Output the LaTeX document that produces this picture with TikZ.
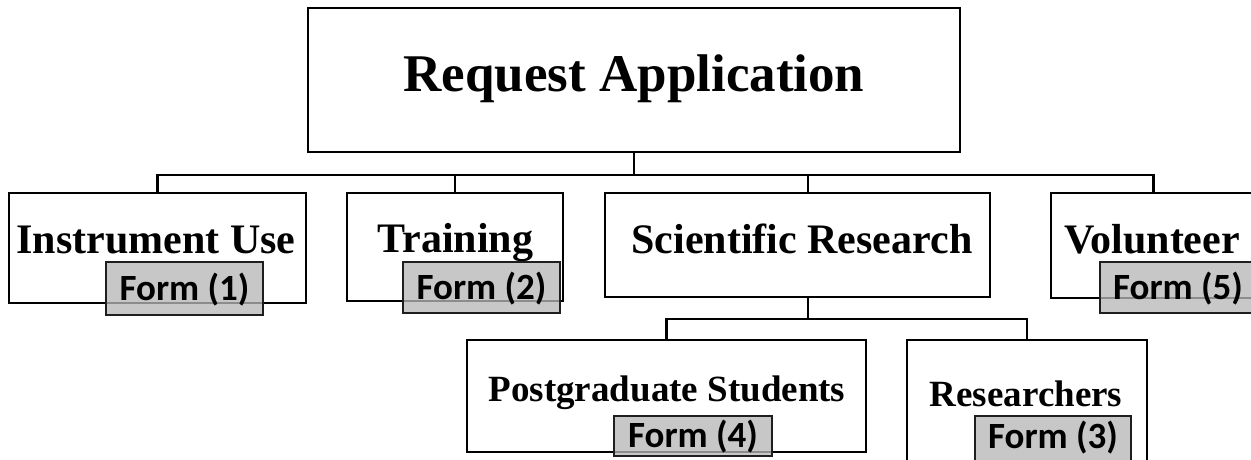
\documentclass[tikz,border=0pt]{standalone}
\usepackage{fontspec}
\newfontfamily\serifbold{Liberation Serif}
\newfontfamily\formfont{Carlito}
\begin{document}
\begin{tikzpicture}[x=1pt,y=-1pt,
  box/.style={draw=black, line width=2.6pt, fill=white, inner sep=0pt, rectangle},
  formbox/.style={draw={rgb,255:red,30;green,30;blue,30}, line width=2.4pt,
     fill={rgb,255:red,183;green,183;blue,183}, fill opacity=0.77, text opacity=1,
     inner sep=0pt, rectangle, text height=23.5pt, text depth=0pt,
     font=\formfont\bfseries\fontsize{37}{40}\selectfont},
  lbl/.style={anchor=base, inner sep=0pt, font=\serifbold\bfseries},
  conn/.style={draw=black, line width=2.6pt}]
\useasboundingbox (0,0) rectangle (1251,459);
\clip (0,0) rectangle (1251,459);
% boxes
\node[box, minimum width=652pt, minimum height=144pt] (top) at (634,80) {};
\node[box, minimum width=297pt, minimum height=110pt] (inst) at (157.5,248) {};
\node[box, minimum width=216pt, minimum height=108pt] (train) at (455,247) {};
\node[box, minimum width=385pt, minimum height=104pt] (sci) at (797.5,245) {};
\node[box, minimum width=205pt, minimum height=105pt] (vol) at (1153.5,245.5) {};
\node[box, minimum width=399pt, minimum height=112pt] (pg) at (666.5,396) {};
\node[box, minimum width=240pt, minimum height=130pt] (res) at (1027,405) {};
% connectors
\coordinate (bus) at (634,175);
\coordinate (bus2) at (808,319);
\draw[conn] (top.south) -- (bus);
\draw[conn] (inst.north) -- (inst.north |- bus) -- (vol.north |- bus) -- (vol.north);
\draw[conn] (train.north) -- (train.north |- bus);
\draw[conn] ([xshift=10.5pt]sci.north) -- ([xshift=10.5pt]sci.north |- bus);
\draw[conn] ([xshift=10.5pt]sci.south) -- (bus2);
\draw[conn] (pg.north) -- (pg.north |- bus2) -- (res.north |- bus2) -- (res.north);
% labels
\node[lbl, font=\serifbold\bfseries\fontsize{53}{60}\selectfont] (t0) at (634,91) {Request Application};
\node[lbl, font=\serifbold\bfseries\fontsize{42}{48}\selectfont] (t1) at (156,253) {Instrument Use};
\node[lbl, font=\serifbold\bfseries\fontsize{42}{48}\selectfont] (t2) at (455.5,252) {Training};
\node[lbl, font=\serifbold\bfseries\fontsize{42}{48}\selectfont] (t3) at (802,253) {Scientific Research};
\node[lbl, font=\serifbold\bfseries\fontsize{42}{48}\selectfont] (t4) at (1152,253) {Volunteer};
\node[lbl, font=\serifbold\bfseries\fontsize{37}{42}\selectfont] (t5) at (667,401) {Postgraduate Students};
\node[lbl, font=\serifbold\bfseries\fontsize{37}{42}\selectfont] (t6) at (1026,406) {Researchers};
% forms
\node[formbox, minimum width=157pt, minimum height=53pt] (f1) at (184.5,288.5) {Form (1)};
\node[formbox, minimum width=157pt, minimum height=51pt] (f2) at (481.5,287.5) {Form (2)};
\node[formbox, minimum width=156pt, minimum height=51pt] (f5) at (1178,287.5) {Form (5)};
\node[formbox, minimum width=158pt, minimum height=40pt] (f4) at (693,436) {Form (4)};
\node[formbox, minimum width=156pt, minimum height=49pt, text depth=8.5pt] (f3) at (1053,440.5) {Form (3)};
\end{tikzpicture}
\end{document}
